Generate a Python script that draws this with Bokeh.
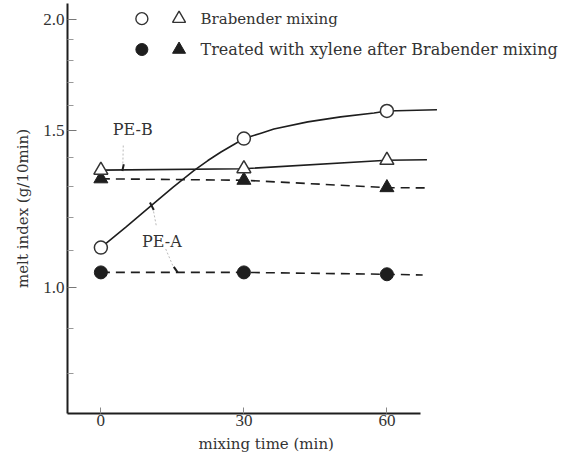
from bokeh.plotting import figure
from bokeh.models import Range1d, FixedTicker, CustomJSTickFormatter, Label, Title
from bokeh.embed import file_html
from bokeh.resources import INLINE

# ---- data ----
time = [0, 30, 60]
x_ticks = [0, 30, 60]
y_major = [1.0, 1.5, 2.0]
y_minor = [0.8, 0.9, 1.1, 1.2, 1.3, 1.4, 1.6, 1.7, 1.8, 1.9]

pe_a_brabender = [1.109, 1.47, 1.579]
pe_b_brabender = [1.355, 1.36, 1.39]
pe_b_xylene = [1.325, 1.32, 1.295]
pe_a_xylene = [1.04, 1.04, 1.035]

# smooth curve drawn through PE-A (Brabender)
curve_time = [0, 5.24, 10.5, 15.1, 19.5, 22.45, 25.2, 27.9, 30, 33.6, 36.3, 43.4, 50.3, 57.3, 60, 70.5]
curve_pe_a = [1.109, 1.169, 1.235, 1.296, 1.353, 1.389, 1.420, 1.448, 1.470, 1.491, 1.507,
              1.535, 1.555, 1.571, 1.579, 1.584]

# where each straight line ends on the right (time, value)
end_time_pe_b_brabender = 68.4
end_pe_b_brabender = 1.392
end_time_pe_b_xylene = 68.4
end_pe_b_xylene = 1.294
end_time_pe_a_xylene = 67.5
end_pe_a_xylene = 1.033

legend_labels = ["Brabender mixing", "Treated with xylene after Brabender mixing"]

INK = "#1e1e1e"
SERIF = "DejaVu Serif"
NUMF = "Liberation Serif"

p = figure(width=569, height=466,
           x_range=Range1d(-7, 98.3), y_range=Range1d(0.722, 2.085),
           y_axis_type="log", output_backend="svg", toolbar_location=None,
           min_border_left=67, min_border_right=0, min_border_top=3, min_border_bottom=53)
p.outline_line_color = None
p.grid.visible = False
p.background_fill_color = "white"
p.border_fill_color = "white"

# y axis
ya = p.yaxis[0]
ya.ticker = FixedTicker(ticks=y_major, minor_ticks=y_minor)
ya.formatter = CustomJSTickFormatter(code="return tick.toFixed(1)")
ya.axis_line_width = 2
ya.axis_line_color = INK
ya.major_tick_in = 9
ya.major_tick_out = 0
ya.major_tick_line_color = "#777777"
ya.minor_tick_in = 6
ya.minor_tick_out = 0
ya.minor_tick_line_color = "#999999"
ya.major_label_text_font = NUMF
ya.major_label_text_font_size = "17px"
ya.major_label_text_color = "#333333"
ya.major_label_standoff = 3
ya.axis_label = "melt index (g/10min)"
ya.axis_label_text_font = SERIF
ya.axis_label_text_font_size = "15px"
ya.axis_label_text_font_style = "normal"
ya.axis_label_text_color = "#333333"
ya.axis_label_standoff = 8

# x axis (its line stops a little past 60 min, as in the original)
xa = p.xaxis[0]
xa.bounds = (-7, 67)
xa.ticker = FixedTicker(ticks=x_ticks, minor_ticks=[])
xa.axis_line_width = 2
xa.axis_line_color = INK
xa.major_tick_in = 6
xa.major_tick_out = 0
xa.major_tick_line_color = "#888888"
xa.major_label_text_font = NUMF
xa.major_label_text_font_size = "17px"
xa.major_label_text_color = "#333333"
xa.major_label_standoff = 1

# x axis title, centred under the drawn axis rather than the whole frame
p.add_layout(Title(text="mixing time (min)", align="left", offset=131, standoff=9,
                   text_font=SERIF, text_font_size="15px", text_font_style="normal",
                   text_color="#333333"), "below")

# lines
p.line(curve_time, curve_pe_a, line_color=INK, line_width=1.6)
p.line(time + [end_time_pe_b_brabender], pe_b_brabender + [end_pe_b_brabender],
       line_color=INK, line_width=1.6)
p.line(time + [end_time_pe_b_xylene], pe_b_xylene + [end_pe_b_xylene],
       line_color=INK, line_width=1.6, line_dash="9 6")
p.line(time + [end_time_pe_a_xylene], pe_a_xylene + [end_pe_a_xylene],
       line_color=INK, line_width=1.6, line_dash="9 6")

# markers
p.scatter(time, pe_a_xylene, marker="circle", size=13, fill_color=INK, line_color=INK)
p.scatter(time, pe_b_xylene, marker="triangle", size=14, fill_color=INK, line_color=INK)
p.scatter(time, pe_a_brabender, marker="circle", size=13, fill_color="white",
          line_color="#333333", line_width=1.5)
p.scatter(time, pe_b_brabender, marker="triangle", size=14, fill_color="white",
          line_color="#333333", line_width=1.5)

# legend (drawn by hand, as in the original)
p.scatter([8.6], [2.005], marker="circle", size=12, fill_color="white", line_color="#333333", line_width=1.4)
p.scatter([16.4], [2.005], marker="triangle", size=13, fill_color="white", line_color="#333333", line_width=1.4)
p.scatter([8.6], [1.851], marker="circle", size=12, fill_color=INK, line_color=INK)
p.scatter([16.4], [1.851], marker="triangle", size=13, fill_color=INK, line_color=INK)
for ly, txt, fs in [(2.005, legend_labels[0], "15px"), (1.851, legend_labels[1], "16px")]:
    p.add_layout(Label(x=20.9, y=ly, text=txt, text_font=SERIF, text_font_size=fs,
                       text_color="#333333", text_baseline="middle", text_align="left"))

# curve annotations
p.add_layout(Label(x=6.7, y=1.504, text="PE-B", text_font=SERIF, text_font_size="16px",
                   text_color="#333333", text_baseline="middle", text_align="center"))
p.add_layout(Label(x=12.8, y=1.126, text="PE-A", text_font=SERIF, text_font_size="16px",
                   text_color="#333333", text_baseline="middle", text_align="center"))

# leader lines (faint) and their dark tips
p.segment(x0=[4.7, 11.6, 13.6], y0=[1.444, 1.175, 1.105], x1=[4.6, 11.0, 15.3], y1=[1.371, 1.222, 1.052],
          line_color="#bbbbbb", line_width=1, line_dash="2 2")
p.segment(x0=[4.8, 10.3, 15.3], y0=[1.376, 1.246, 1.055], x1=[4.5, 11.1, 16.1], y1=[1.352, 1.222, 1.040],
          line_color=INK, line_width=2)

open("out.html", "w").write(file_html(p, INLINE))
